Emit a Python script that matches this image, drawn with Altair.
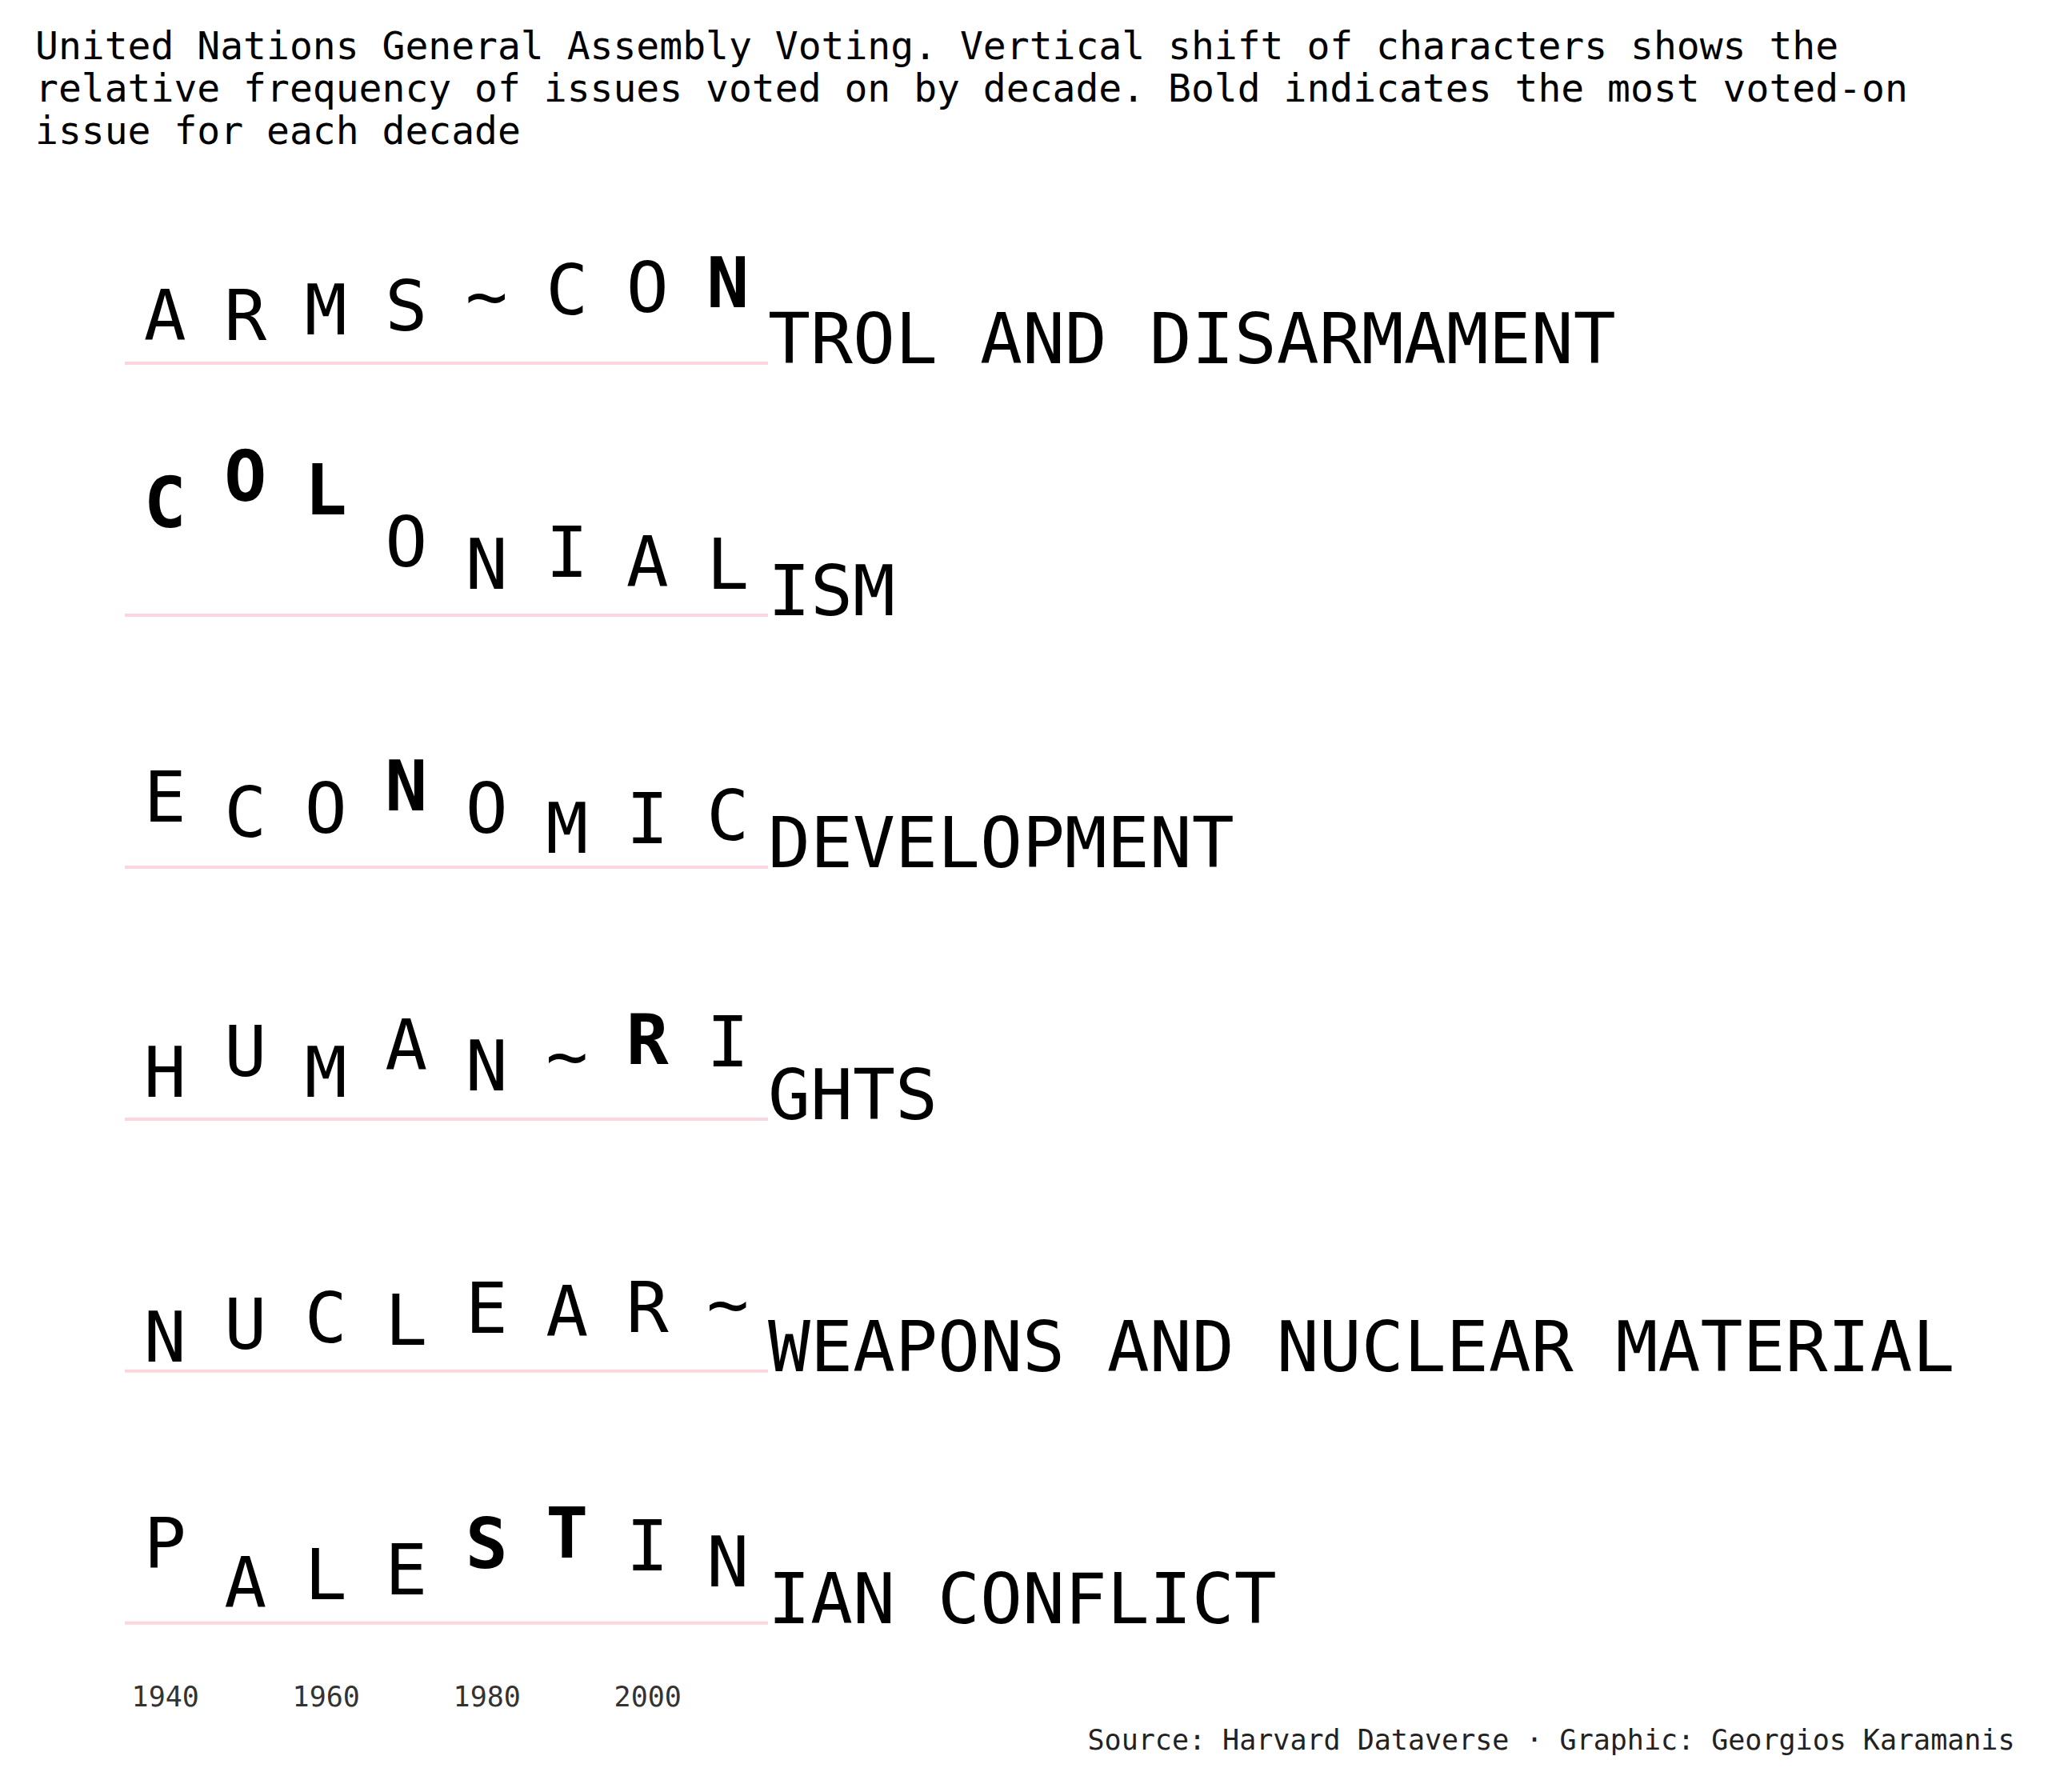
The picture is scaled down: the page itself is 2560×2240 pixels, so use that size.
import pandas as pd
import altair as alt

issues = ["ARMS CONTROL AND DISARMAMENT", "COLONIALISM", "ECONOMIC DEVELOPMENT",
          "HUMAN RIGHTS", "NUCLEAR WEAPONS AND NUCLEAR MATERIAL", "PALESTINIAN CONFLICT"]
prefixes = ["ARMS~CON", "COLONIAL", "ECONOMIC", "HUMAN~RI", "NUCLEAR~", "PALESTIN"]
suffixes = ["TROL AND DISARMAMENT", "ISM", "\u00a0DEVELOPMENT", "GHTS",
            "WEAPONS AND NUCLEAR MATERIAL", "IAN CONFLICT"]
decades = [1940, 1950, 1960, 1970, 1980, 1990, 2000, 2010]
# vertical shift (relative frequency) per decade
shifts = [
    [18, 18, 22, 25, 33, 37, 39, 43],
    [67, 87, 77, 37, 20, 29, 22, 20],
    [35, 23, 26, 43, 26, 11, 18, 21],
    [17, 33, 17, 38, 22, 30, 42, 40],
    [7, 17, 22, 20, 29, 27, 30, 33],
    [42, 12, 18, 22, 42, 50, 40, 28],
]
# most voted-on issue per decade
top_issue = [1, 1, 1, 2, 5, 5, 3, 0]

rows = []
for i, issue in enumerate(issues):
    for j, d in enumerate(decades):
        rows.append({"issue": issue, "row": i, "decade": d, "char": prefixes[i][j],
                     "shift": shifts[i][j], "bold": top_issue[j] == i})
letters = pd.DataFrame(rows)
tails = pd.DataFrame({"issue": issues, "row": range(6), "suffix": suffixes,
                      "x": 2015, "x0": 1935, "shift": 0})

xs = alt.Scale(domain=[1935, 2015])
ys = alt.Scale(domain=[-30, 1110])
font = "DejaVu Sans Mono"
ycalc = "(5 - datum.row) * 192 + datum.shift"

base = alt.Chart(letters).transform_calculate(y=ycalc)
xenc = alt.X("decade:Q", scale=xs, axis=alt.Axis(
    values=[1940, 1960, 1980, 2000], format="d", domain=False, ticks=False, grid=False,
    labelFont=font, labelFontSize=35, labelColor="#333", labelPadding=26,
    title="Source: Harvard Dataverse · Graphic: Georgios Karamanis",
    titleFont=font, titleFontSize=35, titleFontWeight="normal", titleColor="#222",
    titleAnchor="end", titleAlign="right", titleX=2362, titleY=80))
yenc = alt.Y("y:Q", scale=ys, axis=None)

lines = alt.Chart(tails).transform_calculate(y=ycalc).mark_rule(
    color="#fdd5de", strokeWidth=4).encode(
    x=alt.X("x0:Q", scale=xs), x2="x:Q", y=yenc)

normal = base.transform_filter("!datum.bold").mark_text(
    font=font, fontSize=88, baseline="alphabetic", align="center", color="black"
).encode(x=xenc, y=yenc, text="char:N")
bold = base.transform_filter("datum.bold").mark_text(
    font=font, fontSize=88, fontWeight="bold", baseline="alphabetic", align="center",
    color="black").encode(x=alt.X("decade:Q", scale=xs), y=yenc, text="char:N")

tail = alt.Chart(tails).transform_calculate(y=ycalc).mark_text(
    font=font, fontSize=88, baseline="alphabetic", align="left", color="black"
).encode(x=alt.X("x:Q", scale=xs), y=yenc, text="suffix:N")

chart = alt.layer(normal, lines, bold, tail).properties(
    width=804, height=1870,
    autosize=alt.AutoSizeParams(type="none"),
    padding={"left": 148, "top": 200, "right": 1590, "bottom": 155},
    title=alt.TitleParams(
        ["United Nations General Assembly Voting. Vertical shift of characters shows the",
         "relative frequency of issues voted on by decade. Bold indicates the most voted-on",
         "issue for each decade"],
        font=font, fontSize=48, fontWeight="normal", lineHeight=53, anchor="start",
        dx=-110, offset=18, color="black"),
).configure(background="white").configure_view(stroke=None)

chart.save("out.html", embed_options={"renderer": "svg", "actions": False})
